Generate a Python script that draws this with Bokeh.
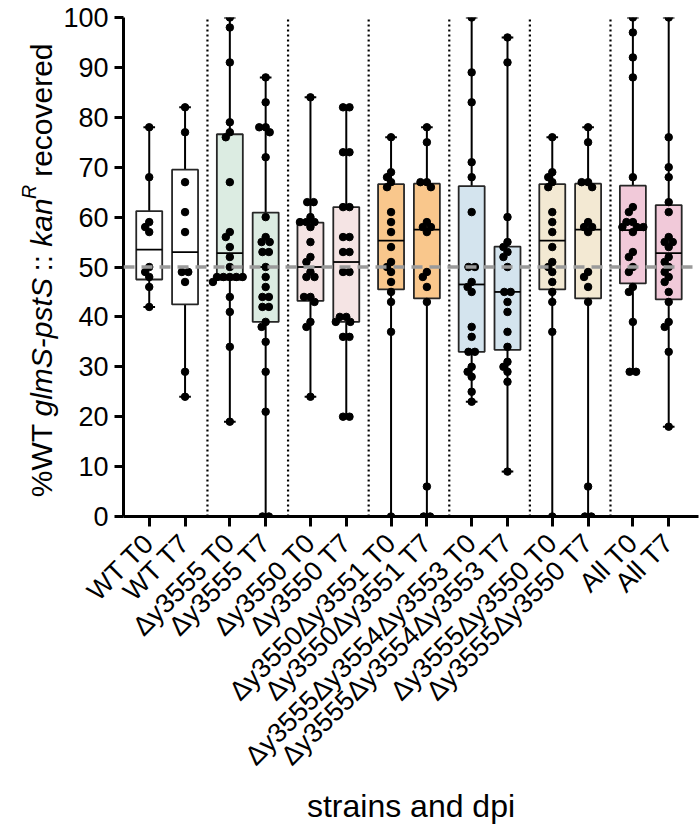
import math
from bokeh.plotting import figure
from bokeh.layouts import row
from bokeh.models import FixedTicker, Span
from bokeh.core.properties import value
from bokeh.embed import file_html
from bokeh.resources import INLINE

# ---------------- data ----------------
strains = ["WT", "Δy3555", "Δy3550", "Δy3550Δy3551", "Δy3555Δy3554Δy3553", "Δy3555Δy3550", "All"]
timepoints = ["T0", "T7"]
strain_colors = ["#ffffff", "#dcece2", "#f5e4e4", "#f9c78c", "#d4e4ee", "#f3e9d3", "#f1c9d9"]

box_q1 = [47.5, 42.5, 47.4, 39.0, 43.2, 39.0, 45.5, 43.7, 33.0, 33.4, 45.5, 43.7, 46.7, 43.5]
box_median = [53.5, 53.0, 52.8, 50.0, 50.0, 51.0, 55.3, 57.5, 46.5, 45.0, 55.3, 57.5, 57.4, 52.8]
box_q3 = [61.2, 69.5, 76.6, 60.9, 58.9, 62.0, 66.6, 66.7, 66.2, 54.1, 66.6, 66.7, 66.3, 62.4]

points_wt_t0 = [78, 68, 59, 58, 57, 50, 49, 48, 46, 42]
points_wt_t7 = [82, 77, 67, 61, 57, 49, 49, 47, 29, 24]
points_3555_t0 = [100, 98, 91, 79, 77, 76, 67, 57, 56, 54, 52, 50, 48, 48, 48, 48, 48, 47, 44, 41, 34, 19]
points_3555_t7 = [88, 83, 78, 78, 77, 72, 60, 56, 55, 55, 53, 53, 50, 48, 46, 44, 44, 42, 42, 39, 38, 35, 29, 21, 0, 0]
points_3550_t0 = [84, 63, 63, 60, 59, 59, 59, 58, 55, 52, 51, 49, 48, 48, 44, 44, 43, 39, 38, 24]
points_3550_t7 = [82, 82, 73, 73, 62, 62, 56, 56, 53, 53, 49, 49, 40, 40, 39, 39, 36, 36, 20, 20]
points_3551_t0 = [76, 69, 68, 67, 66, 61, 59, 57, 54, 51, 50, 49, 47, 45, 43, 37, 0]
points_3551_t7 = [78, 75, 67, 67, 66, 59, 58, 58, 57, 49, 48, 46, 43, 6, 0, 0]
points_3553_t0 = [100, 89, 83, 71, 68, 61, 50, 50, 47, 46, 45, 38, 36, 33, 33, 30, 29, 28, 25, 23]
points_3553_t7 = [96, 91, 60, 55, 54, 53, 52, 50, 45, 45, 43, 41, 37, 34, 31, 30, 29, 27, 9]
points_35553550_t0 = [76, 69, 68, 67, 66, 61, 59, 57, 54, 51, 50, 49, 47, 45, 43, 37, 0]
points_35553550_t7 = [78, 75, 67, 67, 66, 59, 58, 58, 57, 49, 48, 46, 43, 6, 0, 0]
points_all_t0 = [100, 97, 92, 88, 68, 62, 61, 59, 59, 58, 58, 58, 57, 53, 52, 50, 49, 46, 45, 39, 29, 29]
points_all_t7 = [100, 76, 70, 68, 63, 61, 56, 55, 55, 54, 52, 51, 50, 49, 48, 47, 45, 43, 39, 38, 33, 18]

all_points = [points_wt_t0, points_wt_t7, points_3555_t0, points_3555_t7,
              points_3550_t0, points_3550_t7, points_3551_t0, points_3551_t7,
              points_3553_t0, points_3553_t7, points_35553550_t0, points_35553550_t7,
              points_all_t0, points_all_t7]

y_ticks = list(range(0, 101, 10))
reference_line = 50
x_title = "strains and dpi"
y_title_pieces = ["%WT", "glmS-pstS", "::", "kan", "R", "recovered"]
y_title_styles = ["normal", "italic", "normal", "italic", "italic", "normal"]
y_title_spaces_before = [0, 1, 1, 1, 0, 1]

# ---------------- layout helpers ----------------
FONT = "Liberation Sans"
W_TOTAL, H_TOTAL = 700, 826
TITLE_W = 60
FRAME_L, FRAME_R, FRAME_T, FRAME_B = 117, 698, 17, 522
PX_Y = (FRAME_B - FRAME_T) / 100.0
GROUP_STEP = 9
HALF = 2
FIRST_TICK_PX = 143
PX_X = 9.05
BOX_W = 2.9
CAP_W = 1.3

labels, positions, fills = [], [], []
for gi, s in enumerate(strains):
    for ti, tp in enumerate(timepoints):
        labels.append(f"{s} {tp}")
        positions.append(gi * GROUP_STEP + HALF + (-HALF if ti == 0 else HALF))
        fills.append(strain_colors[gi])

separators = [gi * GROUP_STEP + HALF + GROUP_STEP / 2 for gi in range(len(strains) - 1)]


def swarm(vals, d=6.5):
    order = sorted(range(len(vals)), key=lambda i: -vals[i])
    xs = [0.0] * len(vals)
    placed = []
    for i in order:
        y = vals[i] * PX_Y
        forb = []
        for (px, py) in placed:
            dy = abs(py - y)
            if dy < d:
                h = math.sqrt(d * d - dy * dy)
                forb.append((px - h, px + h))
        cands = [0.0] + [a for a, b in forb] + [b for a, b in forb]
        cands.sort(key=lambda c: (abs(c), c))
        for c in cands:
            if all(not (a + 1e-6 < c < b - 1e-6) for a, b in forb):
                xs[i] = c
                break
        placed.append((xs[i], y))
    for v in set(vals):
        idx = [i for i in range(len(vals)) if vals[i] == v]
        if len(idx) < 2:
            continue
        m = sum(xs[i] for i in idx) / len(idx)
        if abs(m) < 1e-6:
            continue
        new = {i: xs[i] - m for i in idx}
        ok = True
        for i in idx:
            for j in range(len(vals)):
                if j in new:
                    continue
                dx = new[i] - xs[j]
                dy = (vals[i] - vals[j]) * PX_Y
                if dx * dx + dy * dy < (d - 0.01) ** 2:
                    ok = False
        if ok:
            for i in idx:
                xs[i] = new[i]
    return [x / PX_X for x in xs]


main_w = W_TOTAL - TITLE_W
x_start = -(FIRST_TICK_PX - FRAME_L) / PX_X
x_end = x_start + (FRAME_R - FRAME_L) / PX_X

p = figure(width=main_w, height=H_TOTAL, x_range=(x_start, x_end), y_range=(0, 100),
           output_backend="svg", toolbar_location=None,
           min_border_left=FRAME_L - TITLE_W, min_border_right=W_TOTAL - FRAME_R,
           min_border_top=FRAME_T, min_border_bottom=H_TOTAL - FRAME_B)
p.outline_line_color = None
p.grid.visible = False

p.segment(x0=separators, x1=separators, y0=[0] * len(separators), y1=[100] * len(separators),
          line_color="black", line_width=2.2, line_dash="2 3")

lo = [min(v) for v in all_points]
hi = [max(v) for v in all_points]
p.segment(x0=positions, x1=positions, y0=lo, y1=hi, line_color="black", line_width=2)
p.segment(x0=[x - CAP_W / 2 for x in positions], x1=[x + CAP_W / 2 for x in positions],
          y0=lo, y1=lo, line_color="black", line_width=2)
p.segment(x0=[x - CAP_W / 2 for x in positions], x1=[x + CAP_W / 2 for x in positions],
          y0=hi, y1=hi, line_color="black", line_width=2)

p.vbar(x=positions, width=BOX_W, bottom=box_q1, top=box_q3, fill_color=fills,
       line_color="#262626", line_width=1.8)
p.segment(x0=[x - BOX_W / 2 for x in positions], x1=[x + BOX_W / 2 for x in positions],
          y0=box_median, y1=box_median, line_color="black", line_width=1.8)

px_all, py_all = [], []
for pos, vals in zip(positions, all_points):
    offs = swarm(vals)
    px_all += [pos + o for o in offs]
    py_all += vals
p.scatter(x=px_all, y=py_all, size=7.5, color="black")

p.add_layout(Span(location=reference_line, dimension="width", line_color="#9a9a9a",
                  line_width=3.5, line_dash="11 7"))

for ax in (p.xaxis[0], p.yaxis[0]):
    ax.axis_line_width = 3
    ax.axis_line_color = "black"
    ax.major_tick_line_width = 3
    ax.major_tick_in = 0
    ax.minor_tick_out = 0
    ax.minor_tick_in = 0
    ax.major_label_text_font = FONT
    ax.major_label_text_color = "black"

p.yaxis.ticker = FixedTicker(ticks=y_ticks)
p.yaxis.major_tick_out = 9
p.yaxis.major_label_standoff = 6
p.yaxis.major_label_text_font_size = "27px"

p.xaxis.ticker = FixedTicker(ticks=positions)
p.xaxis.major_label_overrides = {pos: lab for pos, lab in zip(positions, labels)}
p.xaxis.major_label_orientation = math.pi / 4
p.xaxis.major_label_text_font_size = "27px"
p.xaxis.major_tick_out = 10
p.xaxis.major_label_standoff = 12
p.xaxis.axis_label = x_title
p.xaxis.axis_label_text_font = FONT
p.xaxis.axis_label_text_font_size = "32px"
p.xaxis.axis_label_text_font_style = "normal"
p.xaxis.axis_label_text_color = "black"
p.xaxis.axis_label_standoff = 3

# ----- y title in its own narrow panel (mixed italic / superscript) -----
F = 30
W = {'%': 889, 'W': 944, 'T': 611, ' ': 278, 'g': 556, 'l': 222, 'm': 833, 'S': 667, '-': 333,
     'p': 556, 's': 500, 't': 278, ':': 278, 'k': 500, 'a': 556, 'n': 556, 'R': 722, 'r': 333,
     'e': 556, 'c': 500, 'o': 556, 'v': 500, 'd': 556}
scales = [1.0, 1.0, 1.0, 1.0, 0.65, 1.0]
raises = [0.0, 0.0, 0.0, 0.0, 0.42, 0.0]
space_w = W[' '] / 1000 * F
widths = [sum(W[c] for c in s) / 1000 * F * sc for s, sc in zip(y_title_pieces, scales)]
total = sum(widths) + space_w * sum(y_title_spaces_before) + space_w
baseline_x = 41

t = figure(width=TITLE_W, height=H_TOTAL, x_range=(0, TITLE_W), y_range=(0, 100),
           output_backend="svg", toolbar_location=None, x_axis_type=None, y_axis_type=None,
           min_border_left=0, min_border_right=0,
           min_border_top=FRAME_T, min_border_bottom=H_TOTAL - FRAME_B)
t.outline_line_color = None
t.grid.visible = False
y_cur = 50 - (total / 2) / PX_Y
for s, st, sc, up, w, nsp in zip(y_title_pieces, y_title_styles, scales, raises, widths,
                                 y_title_spaces_before):
    y_cur += nsp * space_w / PX_Y
    t.text(x=[baseline_x - up * F], y=[y_cur], text=[s], angle=math.pi / 2,
           text_font=value(FONT), text_font_style=st, text_font_size=value(f"{F * sc:.1f}px"),
           text_align="left", text_baseline="alphabetic", text_color="black")
    y_cur += w / PX_Y

layout = row(t, p)
open("out.html", "w").write(file_html(layout, INLINE))
